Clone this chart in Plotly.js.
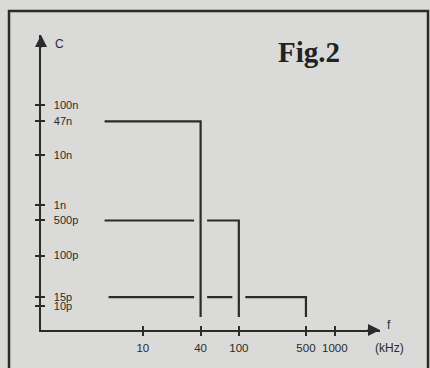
<!DOCTYPE html>
<html>
<head>
<meta charset="utf-8">
<script src="https://cdn.plot.ly/plotly-3.0.1.min.js"></script>
<style>html,body{margin:0;padding:0;background:#dadad8;}#chart{width:430px;height:368px;}</style>
</head>
<body>
<div id="chart"></div>
<script>
// Capacitance steps (pF) vs frequency (kHz)
const seriesNames = ['47n', '500p', '15p'];
const startFreq = [4, 4, 4.4];        // kHz, left end of each horizontal
const cornerFreq = [40, 100, 500];    // kHz
const capValue = [47000, 500, 15];    // pF
const floorCap = 6;                   // pF, bottom of each vertical drop

const xTickVals = [10, 40, 100, 500, 1000];
const xTickText = ['10', '40', '100', '500', '1000'];
const yTickVals = [10, 15, 100, 500, 1000, 10000, 47000, 100000];
const yTickText = ['10p', '15p', '100p', '500p', '1n', '10n', '47n', '100n'];

const bg = '#dadad8';
const ink = '#2b2b2b';

const traces = [];
// draw from lowest to highest; each has a background halo so crossings appear broken
for (let i = seriesNames.length - 1; i >= 0; i--) {
  const xs = [startFreq[i], cornerFreq[i], cornerFreq[i]];
  const ys = [capValue[i], capValue[i], floorCap];
  traces.push({x: xs, y: ys, mode: 'lines', line: {color: bg, width: 13}, hoverinfo: 'skip', showlegend: false});
  traces.push({x: xs, y: ys, mode: 'lines', line: {color: ink, width: 2.2}, name: seriesNames[i], showlegend: false});
}
// invisible trace to bind the overlay axes (inner half of crossing ticks)
traces.push({x: [xTickVals[0]], y: [yTickVals[0]], xaxis: 'x2', yaxis: 'y2', mode: 'markers',
             marker: {opacity: 0}, hoverinfo: 'skip', showlegend: false});

const common = {type: 'log', showgrid: false, zeroline: false, showline: false};
const tickFontX = {family: 'Liberation Sans, Arial, sans-serif', size: 11.5, color: ink};
const tickFontY = {family: 'Liberation Sans, Arial, sans-serif', size: 11, color: ink};
const layout = {
  width: 430, height: 368,
  paper_bgcolor: bg, plot_bgcolor: bg,
  margin: {l: 41, r: 50, t: 35, b: 38},
  font: {family: 'Liberation Sans, Arial, sans-serif', size: 12, color: ink},
  xaxis: Object.assign({}, common, {
    range: [-0.06, 3.47], tickvals: xTickVals, ticktext: xTickText, tickfont: tickFontX,
    ticks: 'outside', ticklen: 4, tickwidth: 2, tickcolor: ink, ticklabelstandoff: 2,
    showline: true, linecolor: ink, linewidth: 2
  }),
  xaxis2: Object.assign({}, common, {
    range: [-0.06, 3.47], tickvals: xTickVals, overlaying: 'x', side: 'bottom',
    ticks: 'inside', ticklen: 4, tickwidth: 2, tickcolor: ink, showticklabels: false
  }),
  yaxis: Object.assign({}, common, {
    range: [0.52, 6.39], tickvals: yTickVals, ticktext: yTickText, tickfont: tickFontY,
    ticks: 'outside', ticklen: 4, tickwidth: 2, tickcolor: ink,
    ticklabelposition: 'inside', ticklabelstandoff: 12,
    showline: true, linecolor: ink, linewidth: 2
  }),
  yaxis2: Object.assign({}, common, {
    range: [0.52, 6.39], tickvals: yTickVals, overlaying: 'y', side: 'left',
    ticks: 'inside', ticklen: 4, tickwidth: 2, tickcolor: ink, showticklabels: false
  }),
  annotations: [
    {xref: 'paper', yref: 'paper', x: 1, y: 0, ax: -14, ay: 0, showarrow: true,
     arrowhead: 2, arrowsize: 1.2, arrowwidth: 2, arrowcolor: ink, text: ''},
    {xref: 'paper', yref: 'paper', x: 0, y: 1, ax: 0, ay: 14, showarrow: true,
     arrowhead: 2, arrowsize: 1.2, arrowwidth: 2, arrowcolor: ink, text: ''},
    {xref: 'paper', yref: 'paper', x: 0, y: 1, xanchor: 'left', yanchor: 'top',
     xshift: 12, yshift: 0, text: 'C', showarrow: false, font: {size: 12}},
    {xref: 'paper', yref: 'paper', x: 1, y: 0, xanchor: 'left', yanchor: 'bottom',
     xshift: 5, yshift: -4, text: 'f', showarrow: false, font: {size: 12}},
    {xref: 'paper', yref: 'paper', x: 1, y: 0, xanchor: 'left', yanchor: 'top',
     xshift: -7, yshift: -9, text: '(kHz)', showarrow: false, font: {size: 12}},
    {xref: 'paper', yref: 'paper', x: 0.79, y: 1, xanchor: 'center', yanchor: 'middle',
     yshift: -17, text: '<b>Fig.2</b>', showarrow: false,
     font: {family: 'Liberation Serif, Times New Roman, serif', size: 29, color: '#222'}}
  ]
};

// Frame around the figure (pixel positions mapped to paper coords)
const pw = 430 - 41 - 50, ph = 368 - 35 - 38;
const px = v => (v - 41) / pw;
const py = v => (368 - 38 - v) / ph;
layout.shapes = [
  {type: 'path', xref: 'paper', yref: 'paper', layer: 'below',
   path: `M ${px(9)},${py(380)} L ${px(9)},${py(11)} L ${px(428)},${py(11)} L ${px(428)},${py(380)}`,
   line: {color: ink, width: 2.5}}
];

Plotly.newPlot('chart', traces, layout, {displayModeBar: false, staticPlot: true});
</script>
</body>
</html>
